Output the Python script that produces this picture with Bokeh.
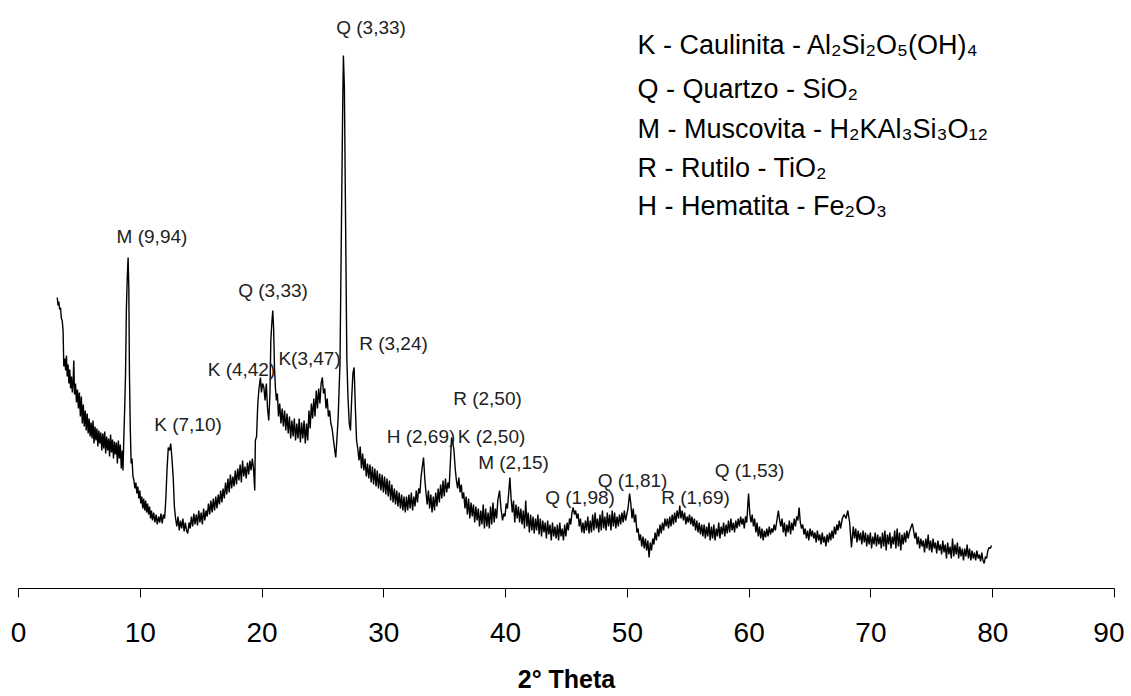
from bokeh.plotting import figure
from bokeh.models import Range1d, FixedTicker, ColumnDataSource
from bokeh.core.properties import value
from bokeh.embed import file_html
from bokeh.resources import INLINE

# ---- data (2-theta in degrees, intensity in arbitrary units) ----
two_theta = [
    3.18, 3.25, 3.31, 3.38, 3.45, 3.52, 3.59, 3.66, 3.72, 3.80,
    3.87, 3.94, 4.00, 4.07, 4.14, 4.21, 4.28, 4.35, 4.42, 4.49,
    4.54, 4.60, 4.68, 4.76, 4.84, 4.92, 5.00, 5.08, 5.16, 5.24,
    5.32, 5.40, 5.48, 5.56, 5.64, 5.72, 5.80, 5.88, 5.96, 6.04,
    6.12, 6.20, 6.28, 6.36, 6.44, 6.52, 6.60, 6.68, 6.76, 6.84,
    6.92, 7.00, 7.08, 7.16, 7.24, 7.32, 7.40, 7.48, 7.56, 7.64,
    7.72, 7.80, 7.88, 7.96, 8.04, 8.12, 8.20, 8.28, 8.36, 8.44,
    8.52, 8.58, 8.65, 8.72, 8.79, 8.86, 8.93, 9.00, 9.06, 9.11,
    9.18, 9.25, 9.32, 9.40, 9.48, 9.56, 9.64, 9.72, 9.80, 9.88,
    9.96, 10.04, 10.12, 10.20, 10.28, 10.36, 10.44, 10.52, 10.60, 10.68,
    10.76, 10.84, 10.92, 11.00, 11.10, 11.20, 11.30, 11.40, 11.50, 11.60,
    11.70, 11.80, 11.90, 12.00, 12.10, 12.20, 12.30, 12.40, 12.50, 12.60,
    12.70, 12.80, 12.90, 13.00, 13.10, 13.20, 13.30, 13.40, 13.50, 13.60,
    13.70, 13.80, 13.90, 14.00, 14.10, 14.20, 14.30, 14.40, 14.50, 14.60,
    14.70, 14.80, 14.90, 15.00, 15.10, 15.20, 15.30, 15.40, 15.50, 15.60,
    15.70, 15.80, 15.90, 16.00, 16.10, 16.20, 16.30, 16.40, 16.50, 16.60,
    16.70, 16.80, 16.90, 17.00, 17.10, 17.20, 17.30, 17.40, 17.50, 17.60,
    17.70, 17.80, 17.90, 18.00, 18.10, 18.20, 18.30, 18.40, 18.50, 18.60,
    18.70, 18.80, 18.90, 19.00, 19.10, 19.20, 19.30, 19.40, 19.45, 19.55,
    19.65, 19.75, 19.87, 19.95, 20.05, 20.15, 20.25, 20.35, 20.45, 20.55,
    20.65, 20.72, 20.80, 20.88, 20.95, 21.02, 21.10, 21.18, 21.26, 21.35,
    21.45, 21.55, 21.65, 21.75, 21.85, 21.95, 22.05, 22.15, 22.25, 22.35,
    22.45, 22.55, 22.65, 22.75, 22.85, 22.95, 23.05, 23.15, 23.25, 23.35,
    23.45, 23.55, 23.65, 23.75, 23.85, 23.95, 24.05, 24.15, 24.25, 24.35,
    24.45, 24.55, 24.65, 24.75, 24.85, 24.95, 25.05, 25.15, 25.25, 25.35,
    25.45, 25.55, 25.65, 25.75, 25.85, 25.95, 26.05, 26.15, 26.25, 26.40,
    26.52, 26.62, 26.68, 26.76, 26.86, 26.96, 27.06, 27.16, 27.26, 27.36,
    27.46, 27.56, 27.66, 27.76, 27.86, 27.96, 28.06, 28.16, 28.26, 28.36,
    28.46, 28.56, 28.66, 28.76, 28.86, 28.96, 29.06, 29.16, 29.26, 29.36,
    29.46, 29.56, 29.66, 29.76, 29.86, 29.96, 30.06, 30.16, 30.26, 30.36,
    30.46, 30.56, 30.66, 30.76, 30.86, 30.96, 31.06, 31.16, 31.26, 31.36,
    31.46, 31.56, 31.66, 31.76, 31.86, 31.96, 32.06, 32.16, 32.26, 32.36,
    32.46, 32.56, 32.66, 32.76, 32.86, 32.96, 33.06, 33.16, 33.26, 33.36,
    33.46, 33.56, 33.66, 33.76, 33.86, 33.96, 34.06, 34.16, 34.26, 34.36,
    34.46, 34.56, 34.66, 34.76, 34.86, 34.96, 35.06, 35.16, 35.26, 35.36,
    35.46, 35.56, 35.66, 35.76, 35.86, 35.96, 36.06, 36.16, 36.26, 36.36,
    36.46, 36.56, 36.66, 36.76, 36.86, 36.96, 37.06, 37.16, 37.26, 37.36,
    37.46, 37.56, 37.66, 37.76, 37.86, 37.96, 38.06, 38.16, 38.26, 38.36,
    38.46, 38.56, 38.66, 38.76, 38.86, 38.96, 39.06, 39.16, 39.26, 39.36,
    39.50, 39.62, 39.75, 39.85, 39.95, 40.05, 40.15, 40.25, 40.35, 40.45,
    40.55, 40.65, 40.75, 40.85, 40.95, 41.05, 41.15, 41.25, 41.35, 41.45,
    41.55, 41.65, 41.75, 41.85, 41.95, 42.05, 42.15, 42.25, 42.35, 42.45,
    42.55, 42.65, 42.75, 42.85, 42.95, 43.05, 43.15, 43.25, 43.35, 43.45,
    43.55, 43.65, 43.75, 43.85, 43.95, 44.05, 44.15, 44.25, 44.35, 44.45,
    44.55, 44.65, 44.75, 44.85, 44.95, 45.05, 45.15, 45.25, 45.35, 45.45,
    45.55, 45.65, 45.75, 45.85, 45.95, 46.05, 46.15, 46.25, 46.35, 46.45,
    46.55, 46.65, 46.75, 46.85, 46.95, 47.05, 47.15, 47.25, 47.35, 47.45,
    47.55, 47.65, 47.75, 47.85, 47.95, 48.05, 48.15, 48.25, 48.35, 48.45,
    48.55, 48.65, 48.75, 48.85, 48.95, 49.05, 49.15, 49.25, 49.35, 49.45,
    49.55, 49.65, 49.75, 49.85, 49.95, 50.05, 50.18, 50.28, 50.38, 50.48,
    50.58, 50.68, 50.78, 50.88, 50.98, 51.08, 51.18, 51.28, 51.38, 51.48,
    51.58, 51.68, 51.78, 51.88, 51.98, 52.08, 52.18, 52.28, 52.38, 52.48,
    52.58, 52.68, 52.78, 52.88, 52.98, 53.08, 53.18, 53.28, 53.38, 53.48,
    53.58, 53.68, 53.78, 53.88, 53.98, 54.08, 54.20, 54.30, 54.40, 54.50,
    54.60, 54.70, 54.80, 54.90, 55.00, 55.10, 55.20, 55.30, 55.40, 55.50,
    55.60, 55.70, 55.80, 55.90, 56.00, 56.10, 56.20, 56.30, 56.40, 56.50,
    56.60, 56.70, 56.80, 56.90, 57.00, 57.10, 57.20, 57.30, 57.40, 57.50,
    57.60, 57.70, 57.80, 57.90, 58.00, 58.10, 58.20, 58.30, 58.40, 58.50,
    58.60, 58.70, 58.80, 58.90, 59.00, 59.10, 59.20, 59.30, 59.40, 59.50,
    59.60, 59.70, 59.80, 59.95, 60.05, 60.15, 60.25, 60.35, 60.45, 60.55,
    60.65, 60.75, 60.85, 60.95, 61.05, 61.15, 61.25, 61.35, 61.45, 61.55,
    61.65, 61.75, 61.85, 61.95, 62.05, 62.15, 62.25, 62.40, 62.50, 62.60,
    62.70, 62.80, 62.90, 63.00, 63.10, 63.20, 63.30, 63.40, 63.50, 63.60,
    63.70, 63.80, 63.90, 64.00, 64.10, 64.20, 64.30, 64.40, 64.50, 64.60,
    64.70, 64.80, 64.90, 65.00, 65.10, 65.20, 65.30, 65.40, 65.50, 65.60,
    65.70, 65.80, 65.90, 66.00, 66.10, 66.20, 66.30, 66.40, 66.50, 66.60,
    66.70, 66.80, 66.90, 67.00, 67.10, 67.20, 67.30, 67.40, 67.50, 67.65,
    67.80, 67.95, 68.10, 68.25, 68.40, 68.55, 68.65, 68.75, 68.85, 68.95,
    69.05, 69.15, 69.25, 69.35, 69.45, 69.55, 69.65, 69.75, 69.85, 69.95,
    70.05, 70.15, 70.25, 70.35, 70.45, 70.55, 70.65, 70.75, 70.85, 70.95,
    71.05, 71.15, 71.25, 71.35, 71.45, 71.55, 71.65, 71.75, 71.85, 71.95,
    72.05, 72.15, 72.25, 72.35, 72.45, 72.55, 72.65, 72.75, 72.85, 72.95,
    73.05, 73.15, 73.25, 73.40, 73.50, 73.60, 73.70, 73.80, 73.90, 74.00,
    74.10, 74.20, 74.30, 74.40, 74.50, 74.60, 74.70, 74.80, 74.90, 75.00,
    75.10, 75.20, 75.30, 75.40, 75.50, 75.60, 75.70, 75.80, 75.90, 76.00,
    76.10, 76.20, 76.30, 76.40, 76.50, 76.60, 76.70, 76.80, 76.90, 77.00,
    77.10, 77.20, 77.30, 77.40, 77.50, 77.60, 77.70, 77.80, 77.90, 78.00,
    78.10, 78.20, 78.30, 78.40, 78.50, 78.60, 78.70, 78.80, 78.90, 79.00,
    79.10, 79.20, 79.30, 79.40, 79.50, 79.60, 79.70, 79.80, 79.90,
]

intensity = [
    291, 283, 287, 279, 281, 270, 268, 258, 222, 230,
    218, 233, 212, 224, 205, 219, 200, 212, 196, 208,
    228, 194, 205, 186, 199, 180, 196, 172, 192, 165,
    184, 162, 178, 158, 175, 155, 170, 152, 166, 150,
    168, 145, 162, 148, 160, 142, 158, 145, 156, 138,
    155, 140, 157, 135, 152, 138, 150, 132, 154, 136,
    149, 130, 147, 134, 146, 125, 148, 130, 144, 120,
    138, 118, 151, 180, 215, 280, 310, 331, 300, 215,
    160, 125, 130, 112, 108, 100, 106, 95, 102, 90,
    98, 85, 92, 80, 90, 78, 88, 76, 85, 74,
    82, 70, 78, 68, 76, 66, 74, 64, 72, 66,
    75, 65, 74, 70, 90, 120, 141, 138, 145, 130,
    112, 82, 70, 62, 72, 58, 68, 60, 70, 57,
    66, 58, 55, 66, 60, 72, 62, 75, 64, 74,
    63, 78, 66, 76, 64, 80, 68, 78, 72, 85,
    74, 88, 76, 90, 78, 92, 80, 94, 84, 98,
    86, 100, 90, 106, 94, 110, 96, 114, 100, 112,
    102, 118, 104, 120, 108, 124, 106, 128, 112, 122,
    110, 126, 114, 128, 118, 130, 120, 98, 148, 152,
    185, 200, 211, 196, 205, 201, 188, 205, 180, 168,
    195, 248, 265, 278, 260, 221, 200, 188, 195, 172,
    185, 165, 180, 162, 178, 158, 175, 155, 172, 150,
    168, 152, 170, 148, 165, 150, 170, 146, 166, 150,
    168, 145, 165, 148, 178, 160, 185, 170, 190, 172,
    198, 180, 200, 185, 205, 211, 195, 200, 180, 190,
    172, 178, 165, 160, 150, 140, 131, 150, 171, 225,
    365, 480, 533, 501, 365, 231, 190, 165, 158, 190,
    215, 221, 181, 148, 140, 128, 142, 120, 135, 118,
    130, 112, 125, 110, 124, 106, 122, 104, 120, 102,
    118, 100, 115, 98, 114, 96, 112, 94, 110, 92,
    108, 88, 104, 86, 100, 84, 98, 82, 96, 80,
    94, 78, 92, 76, 92, 78, 94, 80, 96, 78,
    92, 82, 98, 86, 100, 95, 112, 122, 131, 110,
    96, 84, 98, 80, 94, 76, 92, 78, 96, 82,
    100, 86, 104, 90, 108, 92, 110, 96, 106, 100,
    125, 151, 146, 138, 120, 108, 100, 111, 96, 104,
    90, 96, 80, 92, 74, 90, 70, 86, 72, 84,
    66, 82, 68, 80, 62, 78, 64, 84, 60, 80,
    62, 76, 60, 82, 64, 86, 66, 80, 70, 88,
    98, 80, 68, 75, 72, 85, 80, 95, 111, 90,
    76, 88, 66, 84, 70, 82, 66, 80, 64, 78,
    60, 88, 62, 76, 56, 74, 58, 72, 55, 70,
    58, 74, 54, 70, 52, 68, 56, 66, 50, 68,
    54, 64, 48, 66, 52, 62, 50, 64, 48, 66,
    52, 60, 48, 64, 52, 66, 58, 70, 64, 76,
    81, 74, 78, 70, 75, 62, 70, 56, 66, 55,
    68, 58, 72, 55, 68, 56, 74, 58, 76, 60,
    70, 56, 74, 58, 78, 60, 72, 58, 76, 62,
    74, 58, 78, 62, 76, 60, 72, 62, 74, 64,
    76, 66, 78, 68, 74, 80, 95, 85, 70, 80,
    66, 74, 56, 60, 48, 54, 42, 52, 40, 50,
    38, 48, 31, 46, 38, 50, 44, 56, 48, 60,
    52, 64, 55, 66, 58, 70, 62, 70, 60, 72,
    62, 74, 64, 76, 66, 78, 70, 83, 70, 78,
    68, 76, 64, 72, 66, 74, 64, 72, 62, 70,
    58, 68, 56, 66, 54, 64, 52, 64, 50, 62,
    52, 66, 48, 62, 50, 64, 48, 60, 52, 66,
    50, 62, 54, 66, 52, 64, 55, 68, 56, 70,
    58, 66, 56, 68, 60, 70, 62, 72, 64, 70,
    60, 72, 66, 95, 75, 66, 74, 62, 70, 56,
    66, 52, 62, 50, 60, 48, 58, 51, 60, 52,
    62, 54, 60, 56, 64, 58, 66, 78, 68, 62,
    70, 56, 66, 52, 64, 56, 68, 54, 66, 58,
    70, 62, 72, 68, 81, 66, 60, 64, 54, 60,
    50, 58, 48, 60, 52, 58, 50, 56, 46, 58,
    48, 54, 44, 56, 46, 52, 42, 54, 46, 56,
    48, 58, 50, 62, 54, 64, 58, 68, 60, 70,
    74, 70, 78, 66, 41, 62, 50, 60, 46, 58,
    48, 56, 44, 58, 46, 56, 42, 54, 44, 56,
    40, 52, 44, 56, 42, 54, 44, 52, 40, 56,
    42, 58, 38, 54, 44, 56, 40, 52, 44, 58,
    40, 60, 42, 56, 38, 54, 44, 56, 46, 58,
    50, 56, 60, 65, 58, 50, 56, 44, 52, 40,
    50, 42, 48, 36, 50, 40, 54, 38, 48, 36,
    50, 40, 46, 35, 48, 38, 44, 34, 48, 36,
    44, 30, 46, 34, 42, 30, 50, 32, 44, 34,
    46, 30, 42, 32, 40, 28, 40, 32, 44, 30,
    40, 28, 38, 30, 36, 28, 38, 30, 34, 27,
    36, 28, 25, 32, 30, 38, 41, 40, 43,
]

tick_values = [0, 10, 20, 30, 40, 50, 60, 70, 80, 90]

peak_labels = ["Q (3,33)", "M (9,94)", "Q (3,33)", "K (4,42)", "K(3,47)", "R (3,24)",
               "K (7,10)", "R (2,50)", "H (2,69)", "K (2,50)", "M (2,15)",
               "Q (1,98)", "Q (1,81)", "R (1,69)", "Q (1,53)"]

legend_lines = ["K - Caulinita - Al\u2082Si\u2082O\u2085(OH)\u2084",
                "Q - Quartzo  - SiO\u2082",
                "M - Muscovita - H\u2082KAl\u2083Si\u2083O\u2081\u2082",
                "R - Rutilo - TiO\u2082",
                "H - Hematita - Fe\u2082O\u2083"]

# ---- layout (annotation anchor positions, in data units) ----
label_x = [28.95, 10.96, 20.90, 18.31, 23.90, 30.79, 13.92, 38.51, 33.05, 38.84, 40.65,
           46.11, 50.42, 55.59, 60.03]
label_y = [561, 352, 298, 219, 230, 245, 164, 190, 152, 152, 126, 91, 108, 91, 118]
legend_x = [50.83] * 5
legend_y = [544, 500, 460, 421, 383]

FONT = "Liberation Sans"

p = figure(frame_width=1096, frame_height=580,
           x_range=Range1d(0, 90), y_range=Range1d(0, 580),
           y_axis_location=None, output_backend="svg", toolbar_location=None,
           min_border_left=18, min_border_right=10, min_border_top=8,
           min_border_bottom=0,
           background_fill_color="white", border_fill_color="white")
p.outline_line_color = None
p.grid.visible = False

p.line(two_theta, intensity, line_color="black", line_width=1.4)

src_lbl = ColumnDataSource(dict(x=label_x, y=label_y, t=peak_labels))
p.text(x="x", y="y", text="t", source=src_lbl, text_font=value(FONT),
       text_font_size="19px", text_align="center", text_baseline="middle",
       text_color="#222222")

src_leg = ColumnDataSource(dict(x=legend_x, y=legend_y, t=legend_lines))
p.text(x="x", y="y", text="t", source=src_leg, text_font=value(FONT),
       text_font_size="27px", text_align="left", text_baseline="alphabetic",
       text_color="black")

ax = p.xaxis[0]
ax.ticker = FixedTicker(ticks=tick_values)
ax.minor_tick_line_color = None
ax.major_tick_in = 0
ax.major_tick_out = 9
ax.axis_line_color = "black"
ax.major_tick_line_color = "black"
ax.major_label_text_font = FONT
ax.major_label_text_font_size = "28px"
ax.major_label_text_color = "black"
ax.major_label_standoff = 25
ax.axis_label = "2\u00b0 Theta"
ax.axis_label_text_font = FONT
ax.axis_label_text_font_style = "bold"
ax.axis_label_text_font_size = "25px"
ax.axis_label_text_color = "black"
ax.axis_label_standoff = 20

open("out.html", "w").write(file_html(p, INLINE))
